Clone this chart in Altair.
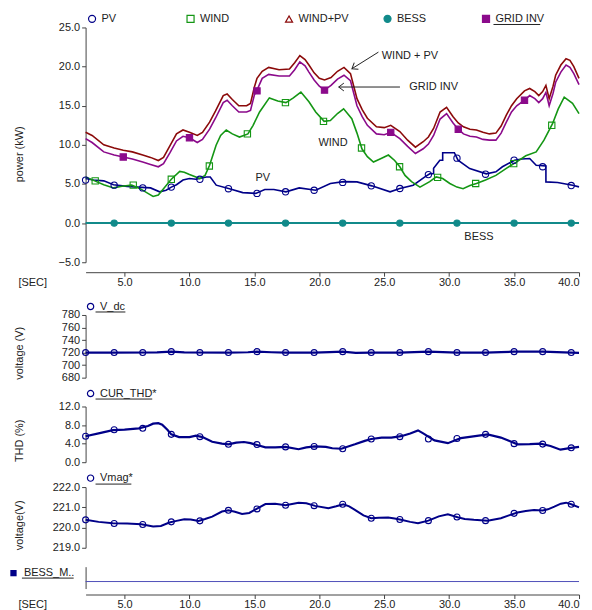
import altair as alt
import pandas as pd

FONT = "Liberation Sans"

# ---------------- data ----------------
series_names = ["PV", "WIND", "WIND+PV", "BESS", "GRID INV"]
series_colors = ["#000088", "#149614", "#8b0a0a", "#118a8a", "#8b0a8b"]
series_shapes = ["circle", "square", "triangle-up", "circle", "square"]
series_fills = ["transparent", "transparent", "transparent", "#118a8a", "#8b0a8b"]

wind_pv = [(2.0,11.6),(2.5,11.2),(3.4,10.0),(4.2,9.6),(4.9,9.3),(5.6,9.1),(6.4,8.7),(7.0,8.4),
           (7.6,8.0),(8.0,8.4),(8.5,9.9),(9.0,11.4),(9.5,11.9),(10.0,11.6),(10.6,11.2),(11.0,11.6),
           (11.55,12.9),(12.0,14.3),(12.6,16.3),(12.9,16.5),(13.3,15.8),(13.8,15.0),(14.4,15.0),
           (14.7,15.3),(15.0,17.4),(15.2,18.5),(15.6,19.4),(16.1,19.9),(16.9,19.6),(17.7,19.7),
           (18.1,20.5),(18.5,21.4),(18.9,20.9),(19.2,20.2),(19.6,19.2),(20.0,18.5),(20.4,18.3),
           (20.9,18.6),(21.4,19.4),(21.9,19.9),(22.4,19.1),(22.9,15.9),(23.3,14.5),(23.7,13.4),
           (24.4,12.3),(25.0,12.2),(25.5,12.5),(26.2,11.7),(26.8,10.6),(27.4,9.7),(28.0,10.4),
           (28.4,11.0),(28.8,12.1),(29.3,14.2),(29.8,14.8),(30.3,13.6),(30.7,12.8),(31.1,12.3),
           (31.6,12.0),(32.1,11.9),(32.6,11.6),(33.1,11.4),(33.6,11.5),(34.0,12.4),(34.4,13.8),
           (34.8,15.0),(35.2,15.9),(35.8,16.9),(36.2,17.2),(36.6,16.8),(36.9,16.3),(37.2,16.8),
           (37.45,17.6),(37.7,15.9),(38.0,17.5),(38.2,18.9),(38.6,20.2),(39.0,21.0),(39.3,20.8),
           (39.6,20.0),(40.0,18.5)]

grid_inv = [(2.0,10.8),(2.5,10.3),(3.4,9.1),(4.2,8.7),(4.9,8.45),(5.6,8.2),(6.4,7.8),(7.0,7.5),
            (7.6,7.2),(8.0,7.6),(8.5,9.0),(9.0,10.5),(9.5,11.1),(10.0,10.9),(10.6,10.3),(11.0,10.7),
            (11.55,12.0),(12.0,13.4),(12.6,15.4),(12.9,15.7),(13.3,15.0),(13.8,14.2),(14.4,14.2),
            (14.7,14.4),(15.0,16.4),(15.2,17.0),(15.6,18.5),(16.1,19.0),(16.9,18.8),(17.7,18.8),
            (18.1,19.6),(18.5,20.6),(18.9,20.1),(19.2,19.3),(19.6,18.3),(20.0,17.5),(20.4,17.0),
            (20.9,17.6),(21.4,18.4),(21.9,18.9),(22.4,18.2),(22.9,15.0),(23.3,13.6),(23.7,12.5),
            (24.4,11.4),(25.0,11.3),(25.5,11.6),(26.2,10.8),(26.8,9.8),(27.4,8.9),(28.0,9.5),
            (28.4,10.1),(28.8,11.2),(29.3,13.3),(29.8,14.0),(30.3,12.8),(30.7,12.0),(31.1,11.4),
            (31.6,11.1),(32.1,11.0),(32.6,10.7),(33.1,10.6),(33.6,10.6),(34.0,11.5),(34.4,12.9),
            (34.8,14.2),(35.2,15.0),(35.8,15.7),(36.2,16.3),(36.6,15.9),(36.9,15.4),(37.2,15.9),
            (37.45,16.7),(37.7,15.0),(38.0,16.6),(38.2,18.0),(38.6,19.3),(39.0,20.2),(39.3,19.9),
            (39.6,19.1),(40.0,17.7)]

wind = [(2.0,5.9),(2.7,5.4),(3.4,4.9),(4.15,4.5),(4.8,4.7),(5.55,4.85),(6.2,4.4),(6.8,3.8),
        (7.2,3.4),(7.6,3.6),(8.0,4.4),(8.6,5.6),(9.25,6.6),(9.6,6.5),(10.0,6.2),(10.8,5.7),
        (11.2,6.1),(11.55,7.4),(12.05,9.95),(12.4,11.2),(12.83,11.9),(13.3,11.4),(13.85,11.0),
        (14.5,11.4),(14.9,12.5),(15.4,14.2),(16.15,16.0),(16.8,15.6),(17.43,15.4),(18.0,16.0),
        (18.58,16.75),(19.2,15.5),(19.72,14.2),(20.37,13.0),(20.85,13.1),(21.4,14.0),(21.87,14.6),
        (22.5,13.35),(22.9,11.5),(23.28,9.5),(23.7,8.5),(24.17,7.8),(24.8,8.3),(25.32,8.7),
        (25.8,8.0),(26.2,7.2),(26.6,6.1),(27.1,5.3),(27.75,4.6),(28.5,5.3),(29.0,5.9),(29.5,5.7),
        (30.05,5.06),(30.6,4.6),(31.07,4.4),(31.6,4.8),(32.1,5.06),(32.8,5.5),(33.6,6.1),
        (34.4,7.0),(35.17,7.8),(35.9,8.6),(36.7,9.1),(37.3,10.6),(37.96,12.7),(38.4,14.6),
        (38.86,16.1),(39.5,15.3),(40.0,14.0)]

pv = [(2.0,5.7),(2.6,5.5),(3.4,5.4),(4.15,4.9),(5.2,4.7),(6.0,4.6),(7.0,4.5),(7.7,4.0),(8.2,4.2),
      (8.6,4.6),(9.0,4.9),(9.5,5.5),(10.0,5.7),(10.5,5.6),(11.3,5.9),(11.6,5.9),(12.06,4.85),
      (13.08,4.4),(14.1,3.9),(15.1,3.8),(15.8,4.3),(16.5,4.3),(17.43,4.0),(18.45,4.5),(19.72,4.2),
      (20.85,5.06),(21.87,5.3),(22.9,5.27),(24.04,4.76),(25.45,4.0),(26.2,4.42),(27.23,4.85),
      (28.13,5.9),(28.5,6.3),(28.8,6.3),(28.8,7.0),(29.28,8.04),(29.5,8.04),(29.5,9.0),(30.4,9.0),
      (30.68,8.04),(31.58,6.97),(32.86,6.3),(33.6,6.55),(34.1,7.2),(35.04,8.04),(35.6,8.2),
      (36.2,8.25),(36.7,7.4),(37.45,7.3),(37.45,5.27),(38.35,5.2),(39.5,4.85),(40.0,4.63)]

bess = [(2.0,0.0),(40.0,0.0)]

pv_marks = [(2.0,5.5),(4.2,4.85),(6.4,4.5),(8.6,4.6),(10.8,5.6),(13.0,4.4),(15.2,3.8),(17.4,4.0),
            (19.6,4.2),(21.8,5.2),(24.0,4.76),(26.2,4.42),(28.4,6.2),(30.6,8.3),(32.8,6.25),
            (35.0,8.04),(37.2,7.2),(39.4,4.8)]
wind_marks = [(2.74,5.4),(5.67,4.85),(8.6,5.6),(11.53,7.3),(14.46,11.4),(17.39,15.4),(20.32,13.0),
              (23.25,9.6),(26.18,7.2),(29.11,5.85),(32.04,5.06),(34.97,7.6),(37.9,12.5)]
grid_marks = [(4.9,8.45),(10.0,10.9),(15.2,16.9),(20.4,17.0),(25.5,11.6),(30.7,12.0),(35.8,15.7)]
bess_marks = [(4.2,0.0),(8.6,0.0),(13.0,0.0),(17.4,0.0),(21.8,0.0),(26.2,0.0),(30.6,0.0),
              (35.0,0.0),(39.4,0.0)]

annot_labels = [("WIND + PV", 24.81, 21.34), ("GRID INV", 26.93, 17.39), ("WIND", 19.93, 10.2),
                ("PV", 15.08, 5.7), ("BESS", 31.17, -1.75)]
# arrow tip (t, v), arrow tail (t2, v2), head rotation
arrows = [(22.51, 19.73, 24.55, 21.85, 238), (21.49, 17.39, 26.21, 17.39, 270)]

vdc_line = [(2.0,720.0),(4.0,720.0),(7.5,720.3),(8.6,721.5),(9.6,720.3),(13.0,720.0),(14.5,720.5),
            (15.2,721.5),(16.3,720.5),(17.4,720.0),(19.6,720.0),(20.8,720.8),(21.8,721.5),(22.8,719.5),
            (24.0,720.0),(26.2,720.0),(27.3,720.6),(28.4,721.5),(29.5,720.8),(30.6,720.0),(32.8,720.0),
            (34.0,720.6),(35.0,721.5),(37.2,721.5),(38.3,720.6),(39.4,720.0),(40.0,719.6)]
vdc_marks = [(2.0,720.0),(4.2,720.0),(6.4,720.0),(8.6,721.5),(10.8,720.0),(13.0,720.0),(15.2,721.5),
             (17.4,720.0),(19.6,720.0),(21.8,721.5),(24.0,720.0),(26.2,720.0),(28.4,721.5),
             (30.6,720.0),(32.8,720.0),(35.0,721.5),(37.2,721.5),(39.4,720.0)]

thd_line = [(2.0,5.6),(3.0,6.2),(4.1,6.9),(5.0,7.0),(6.1,7.3),(6.8,7.8),(7.2,8.3),(7.6,8.4),(7.9,8.1),
            (8.3,7.0),(8.6,6.0),(9.2,5.4),(10.0,5.4),(10.5,5.7),(11.0,5.4),(11.75,4.4),(12.5,4.0),
            (13.0,3.85),(13.6,4.2),(14.2,4.35),(14.7,4.1),(15.2,3.7),(15.85,3.2),(16.6,3.2),(17.4,3.3),
            (18.4,2.8),(19.0,3.2),(19.67,3.4),(20.5,3.3),(21.0,3.0),(21.7,2.9),(22.74,3.85),(23.5,4.6),
            (24.0,5.0),(24.8,5.3),(25.55,5.3),(26.3,5.6),(27.0,6.2),(27.6,6.85),(28.0,6.2),(28.87,4.7),
            (29.9,4.1),(30.9,5.2),(32.0,5.6),(32.96,6.0),(33.98,5.3),(34.6,4.6),(35.26,3.85),(36.2,3.9),
            (37.04,4.0),(37.8,3.5),(38.57,2.7),(39.4,3.1),(40.0,3.3)]
thd_marks = [(2.0,5.6),(4.2,7.0),(6.4,7.3),(8.6,6.0),(10.8,5.5),(13.0,3.85),(15.2,3.8),(17.4,3.3),
             (19.6,3.4),(21.8,2.9),(24.0,5.0),(26.2,5.5),(28.4,5.0),(30.6,5.1),(32.8,6.0),(35.0,4.0),
             (37.2,3.9),(39.4,3.1)]

vmag_line = [(2.0,220.38),(3.0,220.28),(4.1,220.21),(5.2,220.2),(6.3,220.16),(7.2,220.05),(7.8,220.08),
             (8.45,220.25),(9.0,220.33),(9.6,220.41),(10.1,220.4),(10.7,220.33),(11.2,220.42),
             (11.75,220.54),(12.5,220.79),(13.0,220.85),(13.5,220.78),(14.05,220.67),(14.6,220.72),
             (15.1,220.9),(15.85,221.16),(16.6,221.18),(17.4,221.1),(18.4,221.23),(19.0,221.2),
             (19.67,221.07),(20.7,220.95),(21.3,221.05),(21.85,221.15),(22.3,221.05),(22.74,220.87),
             (23.4,220.6),(24.0,220.46),(24.6,220.48),(25.3,220.49),(25.8,220.45),(26.3,220.38),
             (27.0,220.28),(27.6,220.21),(28.4,220.34),(29.2,220.55),(29.9,220.66),(30.65,220.51),
             (31.2,220.42),(31.9,220.38),(32.96,220.34),(33.98,220.46),(34.6,220.6),(35.26,220.74),
             (35.9,220.82),(36.53,220.87),(37.2,220.84),(37.6,220.9),(38.1,221.03),(38.6,221.18),
             (39.0,221.23),(39.4,221.15),(40.0,221.0)]
vmag_marks = [(2.0,220.38),(4.2,220.2),(6.4,220.15),(8.6,220.28),(10.8,220.33),(13.0,220.85),
              (15.2,220.92),(17.4,221.1),(19.6,221.08),(21.8,221.15),(24.0,220.46),(26.2,220.4),
              (28.4,220.34),(30.6,220.52),(32.8,220.34),(35.0,220.7),(37.2,220.84),(39.4,221.15)]

bess_m_line = [(2.0,0.32),(40.0,0.32)]

x_ticks = [5, 10, 15, 20, 25, 30, 35, 40]
power_ticks = [-5, 0, 5, 10, 15, 20, 25]
vdc_ticks = [680, 700, 720, 740, 760, 780]
thd_ticks = [0, 4, 8, 12]
vmag_ticks = [219, 220, 221, 222]

NAVY = "#000088"
W = 496

# ---------------- helpers ----------------
def frame(pairs, name):
    return pd.DataFrame({"t": [p[0] for p in pairs], "v": [p[1] for p in pairs],
                         "series": name, "i": list(range(len(pairs)))})

xscale = alt.Scale(domain=[2, 40], nice=False, zero=False)
one_row = pd.DataFrame({"k": [0]})

def underline(x0, x1, y):
    # decorative underline below a legend label (pixel offsets within the panel)
    return alt.Chart(one_row).mark_rule(color="#222", strokeWidth=1).encode(
        x=alt.value(x0), x2=alt.value(x1), y=alt.value(y))

def yaxis(title, values, fmt, ty):
    return alt.Axis(title=title, values=values, format=fmt, titleX=-66, titleY=ty,
                    titleAngle=270, titleAlign="center", titleBaseline="middle",
                    tickSize=4, labelPadding=2, labelOverlap=False, labelFlush=False)

def xaxis_bottom(offset):
    return alt.Axis(values=x_ticks, format=".1f", offset=offset, title="[SEC]", titleX=-68,
                    titleY=10, titleAngle=0, titleAlign="left", titleBaseline="middle",
                    tickSize=4, labelPadding=0, labelOverlap=False, labelFlush=True,
                    labelFlushOffset=0)

# ---------------- panel 1: power ----------------
line_sets = [(pv, "PV"), (wind, "WIND"), (wind_pv, "WIND+PV"), (bess, "BESS"), (grid_inv, "GRID INV")]
df_marks = pd.concat([frame(pv_marks, "PV"), frame(wind_marks, "WIND"),
                      frame(bess_marks, "BESS"), frame(grid_marks, "GRID INV")], ignore_index=True)
df_ann = pd.DataFrame(annot_labels, columns=["label", "t", "v"])
df_arrow = pd.DataFrame(arrows, columns=["t", "v", "t2", "v2", "ang"])

x1 = alt.X("t:Q", scale=xscale, axis=xaxis_bottom(10))
y1 = alt.Y("v:Q", scale=alt.Scale(domain=[-5, 25], nice=False, zero=False),
           axis=yaxis("power (kW)", power_ticks, ".1f", 127))

leg1 = alt.Legend(title=None, orient="none", legendX=1, legendY=-14.5, direction="horizontal",
                  columns=5, gridAlign="all", columnPadding=32, symbolSize=50,
                  symbolStrokeWidth=1.2, labelFontSize=11, labelOffset=4, labelColor="#222")

line_layers = []
for pairs, name in line_sets:
    col = series_colors[series_names.index(name)]
    sw = 2.0 if name == "BESS" else 1.6
    line_layers.append(alt.Chart(frame(pairs, name)).mark_line(strokeWidth=sw, color=col)
                       .encode(order="i:Q"))

marks1 = alt.Chart(df_marks).mark_point(size=40, strokeWidth=1.1, opacity=1, filled=True).encode(
    stroke=alt.Stroke("series:N", scale=alt.Scale(domain=series_names, range=series_colors), legend=leg1),
    shape=alt.Shape("series:N", scale=alt.Scale(domain=series_names, range=series_shapes), legend=leg1),
    fill=alt.Fill("series:N", scale=alt.Scale(domain=series_names, range=series_fills), legend=leg1),
)
texts1 = alt.Chart(df_ann).mark_text(align="left", baseline="middle", fontSize=11, color="#222",
                                     font=FONT).encode(text="label:N")
rules1 = alt.Chart(df_arrow).mark_rule(color="#222", strokeWidth=1).encode(x2="t2:Q", y2="v2:Q")
heads1 = alt.Chart(df_arrow).mark_point(shape="M -0.75 1 L 0 0 L 0.75 1", filled=False, size=110,
                                        strokeWidth=1, color="#222", opacity=1).encode(
    angle=alt.Angle("ang:Q", scale=None))

panel1 = alt.layer(*line_layers, marks1, rules1, heads1, texts1,
                   underline(410, 457, -3)).encode(x=x1, y=y1).properties(width=W, height=236)

# ---------------- small panels ----------------
def small_panel(line_pairs, mark_pairs, name, dom, ticks, fmt, title, ty, height, legY, legPad,
                xaxis, stroke_w, ul):
    dl = frame(line_pairs, name)
    dm = frame(mark_pairs, name)
    ys = alt.Scale(domain=dom, nice=False, zero=False)
    leg = alt.Legend(title=None, orient="none", legendX=-0.5 - legPad, legendY=legY,
                     padding=legPad, symbolSize=40, symbolStrokeWidth=1.2, labelFontSize=11,
                     labelOffset=4, labelColor="#222")
    ln = alt.Chart(dl).mark_line(strokeWidth=stroke_w, color=NAVY).encode(order="i:Q")
    mk = alt.Chart(dm).mark_point(size=36, strokeWidth=1.1, opacity=1, filled=False).encode(
        shape=alt.Shape("series:N", scale=alt.Scale(domain=[name], range=["circle"]), legend=leg),
        color=alt.Color("series:N", scale=alt.Scale(domain=[name], range=[NAVY]), legend=leg),
    )
    return alt.layer(ln, mk, underline(*ul)).encode(
        x=alt.X("t:Q", scale=xscale, axis=xaxis),
        y=alt.Y("v:Q", scale=ys, axis=yaxis(title, ticks, fmt, ty)),
    ).properties(width=W, height=height)

hidden_x = alt.Axis(domain=False, ticks=False, labelOpacity=0, labelPadding=3, title=None,
                    values=x_ticks)

panel2 = small_panel(vdc_line, vdc_marks, "V_dc", [680, 780], vdc_ticks, "d", "voltage (V)", 38,
                     63, -22.5, 8.5, None, 2.2, (10, 40, -3))
panel3 = small_panel(thd_line, thd_marks, "CUR_THD*", [0, 12], thd_ticks, ".1f", "THD (%)", 34,
                     56, -18.5, 0, None, 2.2, (10, 67, -7.5))
panel4 = small_panel(vmag_line, vmag_marks, "Vmag*", [219, 222], vmag_ticks, ".1f", "voltage(V)", 38,
                     61, -14.5, 0, hidden_x, 2.0, (10, 46, -3))

# ---------------- panel 5: BESS_M ----------------
df5 = frame(bess_m_line, "BESS_M..")
leg5 = alt.Legend(title=None, orient="none", legendX=-78, legendY=1, symbolSize=40,
                  labelFontSize=11, labelOffset=5, labelColor="#222")
line5 = alt.Chart(df5).mark_line(strokeWidth=1, color="#4f4fb8").encode()
marks5 = alt.Chart(df5.head(0)).mark_point(filled=True, opacity=1).encode(
    shape=alt.Shape("series:N", scale=alt.Scale(domain=["BESS_M.."], range=["square"]), legend=leg5),
    color=alt.Color("series:N", scale=alt.Scale(domain=["BESS_M.."], range=[NAVY]), legend=leg5),
)
panel5 = alt.layer(line5, marks5, underline(-64, -12, 11.5)).encode(
    x=alt.X("t:Q", scale=xscale, axis=xaxis_bottom(6)),
    y=alt.Y("v:Q", scale=alt.Scale(domain=[0, 1], nice=False, zero=False),
            axis=alt.Axis(labels=False, ticks=False, title=None)),
).properties(width=W, height=22)

chart = alt.vconcat(panel1, panel2, panel3, panel4, panel5, spacing=5).resolve_scale(
    color="independent", shape="independent", fill="independent", stroke="independent"
).resolve_legend(
    color="independent", shape="independent", fill="independent", stroke="independent"
).configure(
    font=FONT, padding={"left": 0, "top": 3, "right": 0, "bottom": 0}
).configure_view(stroke=None).configure_axis(
    grid=False, domainColor="#444", tickColor="#444", labelColor="#222", labelFontSize=11,
    titleFontSize=11, titleFontWeight="normal", titleColor="#222", labelFont=FONT, titleFont=FONT,
    labelOverlap=False
).configure_legend(labelFont=FONT)

chart.save("out.html", embed_options={"renderer": "svg", "actions": False})
